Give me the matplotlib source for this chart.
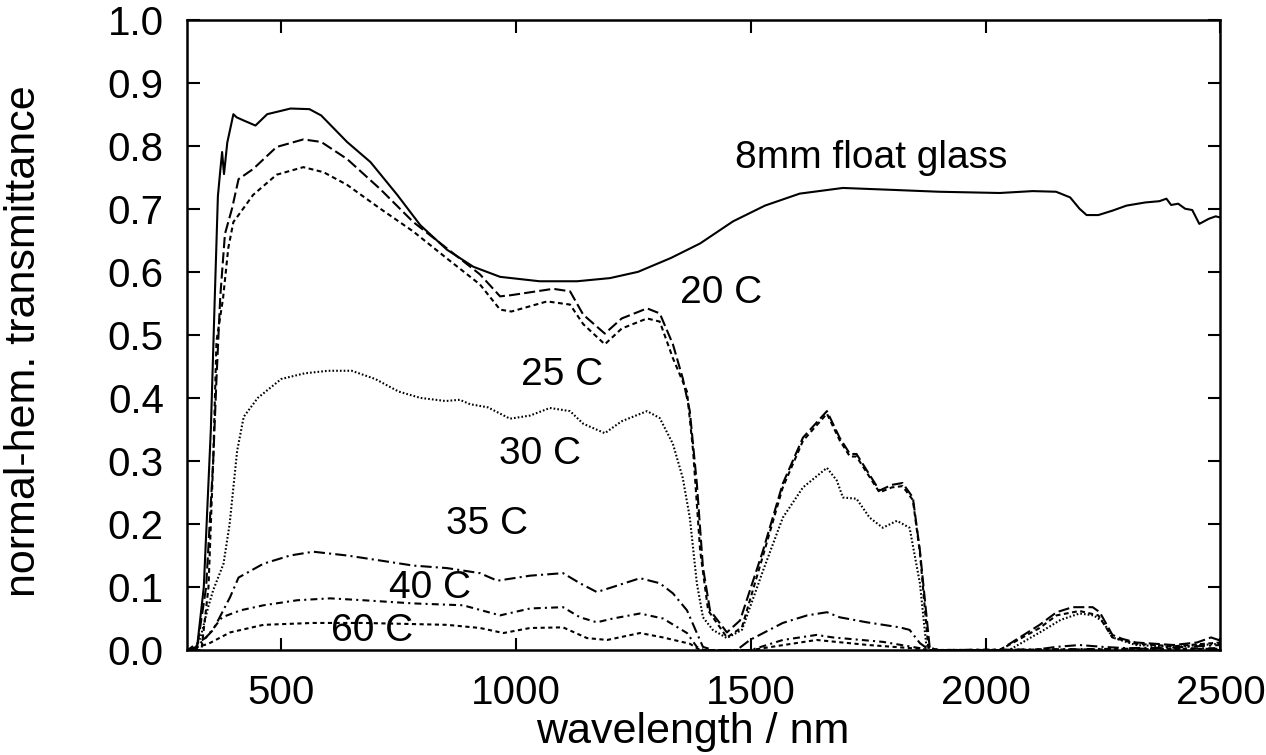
import matplotlib
matplotlib.use('Agg')
import matplotlib.pyplot as plt

plt.rcParams['font.family'] = ['Liberation Sans', 'DejaVu Sans']
plt.rcParams['lines.scale_dashes'] = False

# 8 mm float glass (solid)
wl_glass = [300, 320, 335, 350, 358, 365, 370, 374, 378, 385, 398, 405, 420, 445, 470, 520, 560,
            585, 640, 690, 747, 796, 853, 909, 966, 1050, 1130, 1200, 1260, 1330, 1392, 1462, 1530,
            1604, 1696, 1800, 1900, 2030, 2100, 2150, 2180, 2200, 2215, 2240, 2270, 2300, 2340, 2370,
            2385, 2395, 2410, 2425, 2440, 2455, 2475, 2490, 2500]
t_glass = [0.0, 0.0, 0.1, 0.35, 0.55, 0.72, 0.76, 0.79, 0.755, 0.805, 0.85, 0.845, 0.84, 0.832,
           0.85, 0.859, 0.858, 0.848, 0.806, 0.774, 0.722, 0.674, 0.635, 0.608, 0.592, 0.585,
           0.585, 0.59, 0.60, 0.622, 0.645, 0.68, 0.705, 0.724, 0.733, 0.73, 0.727, 0.725, 0.728,
           0.727, 0.718, 0.70, 0.69, 0.69, 0.697, 0.705, 0.71, 0.712, 0.716, 0.706, 0.708, 0.70,
           0.698, 0.676, 0.684, 0.688, 0.686]

# 20 C
wl_20 = [300, 320, 340, 355, 362, 370, 380, 395, 409, 440, 490, 547, 585, 640, 711, 781, 853,
         923, 966, 990, 1079, 1115, 1143, 1189, 1225, 1279, 1306, 1334, 1355, 1370, 1385, 1398,
         1413, 1449, 1477, 1526, 1568, 1611, 1662, 1689, 1711, 1725, 1774, 1800, 1823, 1845,
         1860, 1881, 1900, 2030, 2115, 2151, 2185, 2228, 2243, 2270, 2290, 2320, 2360, 2400,
         2450, 2480, 2500]
t_20 = [0.0, 0.0, 0.1, 0.3, 0.43, 0.56, 0.66, 0.70, 0.747, 0.763, 0.798, 0.81, 0.806, 0.779,
        0.731, 0.679, 0.637, 0.596, 0.561, 0.563, 0.573, 0.569, 0.532, 0.502, 0.526, 0.542,
        0.534, 0.485, 0.431, 0.379, 0.264, 0.131, 0.063, 0.028, 0.047, 0.158, 0.264, 0.337,
        0.379, 0.337, 0.311, 0.311, 0.253, 0.262, 0.265, 0.242, 0.158, 0.003, 0.0, 0.0, 0.04,
        0.06, 0.068, 0.068, 0.06, 0.024, 0.018, 0.012, 0.01, 0.008, 0.012, 0.02, 0.015]

# 25 C
wl_25 = [300, 330, 345, 355, 362, 376, 387, 398, 409, 440, 490, 547, 590, 640, 711, 781, 853,
         923, 966, 990, 1066, 1115, 1143, 1189, 1225, 1279, 1306, 1334, 1364, 1377, 1392, 1409,
         1449, 1481, 1526, 1568, 1611, 1662, 1689, 1711, 1725, 1774, 1800, 1823, 1845, 1860,
         1878, 1900, 2030, 2115, 2151, 2200, 2240, 2270, 2320, 2400, 2500]
t_25 = [0.0, 0.0, 0.1, 0.3, 0.49, 0.558, 0.637, 0.679, 0.69, 0.722, 0.754, 0.766, 0.758, 0.738,
        0.70, 0.664, 0.621, 0.58, 0.54, 0.537, 0.553, 0.548, 0.517, 0.485, 0.51, 0.526, 0.521,
        0.463, 0.41, 0.316, 0.158, 0.063, 0.02, 0.036, 0.15, 0.258, 0.332, 0.375, 0.333, 0.307,
        0.307, 0.25, 0.258, 0.26, 0.238, 0.155, 0.003, 0.0, 0.0, 0.035, 0.055, 0.062, 0.055,
        0.02, 0.01, 0.006, 0.012]

# 30 C
wl_30 = [300, 315, 328, 345, 355, 377, 390, 406, 420, 450, 500, 550, 600, 650, 700, 750, 796,
         850, 880, 902, 940, 987, 1030, 1072, 1115, 1143, 1189, 1225, 1279, 1306, 1334, 1355,
         1370, 1385, 1398, 1419, 1449, 1481, 1526, 1568, 1611, 1662, 1683, 1696, 1725, 1753,
         1781, 1811, 1838, 1860, 1874, 1900, 2050, 2120, 2160, 2200, 2230, 2250, 2270, 2320,
         2400, 2500]
t_30 = [0.0, 0.0, 0.02, 0.07, 0.095, 0.137, 0.2, 0.316, 0.37, 0.4, 0.43, 0.439, 0.443, 0.443,
        0.43, 0.41, 0.40, 0.395, 0.397, 0.39, 0.385, 0.367, 0.372, 0.384, 0.379, 0.359, 0.344,
        0.363, 0.379, 0.368, 0.327, 0.273, 0.21, 0.106, 0.052, 0.032, 0.019, 0.032, 0.126, 0.21,
        0.258, 0.289, 0.269, 0.242, 0.24, 0.21, 0.194, 0.205, 0.194, 0.106, 0.005, 0.0, 0.0,
        0.03, 0.048, 0.058, 0.055, 0.045, 0.02, 0.008, 0.005, 0.01]

# 35 C
wl_35 = [300, 320, 355, 391, 409, 462, 519, 568, 640, 711, 781, 853, 923, 960, 1030, 1100, 1136,
         1172, 1206, 1264, 1306, 1334, 1364, 1385, 1398, 1420, 1470, 1498, 1568, 1620, 1662,
         1689, 1747, 1817, 1838, 1860, 1880, 2100, 2150, 2200, 2250, 2300, 2400, 2500]
t_35 = [0.0, 0.005, 0.032, 0.084, 0.115, 0.137, 0.15, 0.156, 0.15, 0.142, 0.134, 0.13, 0.122,
        0.11, 0.118, 0.122, 0.106, 0.092, 0.1, 0.114, 0.106, 0.09, 0.063, 0.027, 0.005, 0.0, 0.0,
        0.016, 0.043, 0.055, 0.06, 0.052, 0.044, 0.036, 0.032, 0.011, 0.0, 0.0, 0.005, 0.008,
        0.005, 0.003, 0.004, 0.008]

# 40 C
wl_40 = [300, 340, 374, 413, 462, 534, 604, 675, 781, 887, 966, 1030, 1100, 1136, 1172, 1206,
         1264, 1313, 1364, 1385, 1400, 1500, 1568, 1640, 1675, 1781, 1860, 1880, 2500]
t_40 = [0.0, 0.02, 0.052, 0.063, 0.071, 0.079, 0.082, 0.079, 0.074, 0.071, 0.055, 0.066, 0.068,
        0.052, 0.044, 0.05, 0.058, 0.05, 0.027, 0.005, 0.0, 0.0, 0.016, 0.024, 0.02, 0.013,
        0.003, 0.0, 0.003]

# 60 C
wl_60 = [300, 345, 391, 462, 568, 675, 853, 923, 973, 1030, 1100, 1151, 1194, 1264, 1313, 1370,
         1392, 1500, 1640, 1750, 1860, 1880, 2500]
t_60 = [0.0, 0.01, 0.028, 0.04, 0.043, 0.043, 0.04, 0.035, 0.027, 0.035, 0.036, 0.019, 0.016,
        0.027, 0.02, 0.01, 0.0, 0.0, 0.016, 0.008, 0.002, 0.0, 0.002]

labels = ['8mm float glass', '20 C', '25 C', '30 C', '35 C', '40 C', '60 C']
label_x = [1466, 1436, 1098, 1051, 938, 817, 694]
label_y = [0.78, 0.566, 0.436, 0.311, 0.200, 0.098, 0.030]

fig = plt.figure(figsize=(12.66, 7.55), dpi=100)
ax = fig.add_axes([0.148, 0.139, 0.816, 0.835])

lw = 1.5
ax.plot(wl_glass, t_glass, color='black', lw=lw, linestyle='-')
ax.plot(wl_20, t_20, color='black', lw=lw, linestyle=(0, (8, 3)))
ax.plot(wl_25, t_25, color='black', lw=lw, linestyle=(0, (3.5, 2.5)))
ax.plot(wl_30, t_30, color='black', lw=lw, linestyle=(0, (1.2, 1.5)))
ax.plot(wl_35, t_35, color='black', lw=lw, linestyle=(0, (8, 3, 1.5, 3)))
ax.plot(wl_40, t_40, color='black', lw=lw, linestyle=(0, (5, 3, 1.5, 3)))
ax.plot(wl_60, t_60, color='black', lw=lw, linestyle=(0, (3, 2.5)))

for i in range(len(labels)):
    if i == 0:
        ax.text(label_x[i], label_y[i], labels[i], fontsize=28, ha='left', va='center')
    else:
        ax.text(label_x[i], label_y[i], labels[i], fontsize=28, ha='center', va='center')

ax.set_xlim(300, 2500)
ax.set_ylim(0.0, 1.0)
ax.set_xticks([500, 1000, 1500, 2000, 2500])
ax.set_yticks([0.0, 0.1, 0.2, 0.3, 0.4, 0.5, 0.6, 0.7, 0.8, 0.9, 1.0])
ax.set_yticklabels(['%.1f' % v for v in ax.get_yticks()])
ax.tick_params(direction='in', top=True, right=True, length=9, width=1.5,
               labelsize=29)
ax.tick_params(axis='x', pad=17)
ax.tick_params(axis='y', pad=17)
for s in ax.spines.values():
    s.set_linewidth(1.8)

ax.set_xlabel('wavelength / nm', fontsize=31, va='top')
ax.xaxis.set_label_coords(0.489, -0.098)
ax.set_ylabel('normal-hem. transmittance', fontsize=31)
ax.yaxis.set_label_coords(-0.139, 0.49)

fig.savefig('out.png', dpi=100)
